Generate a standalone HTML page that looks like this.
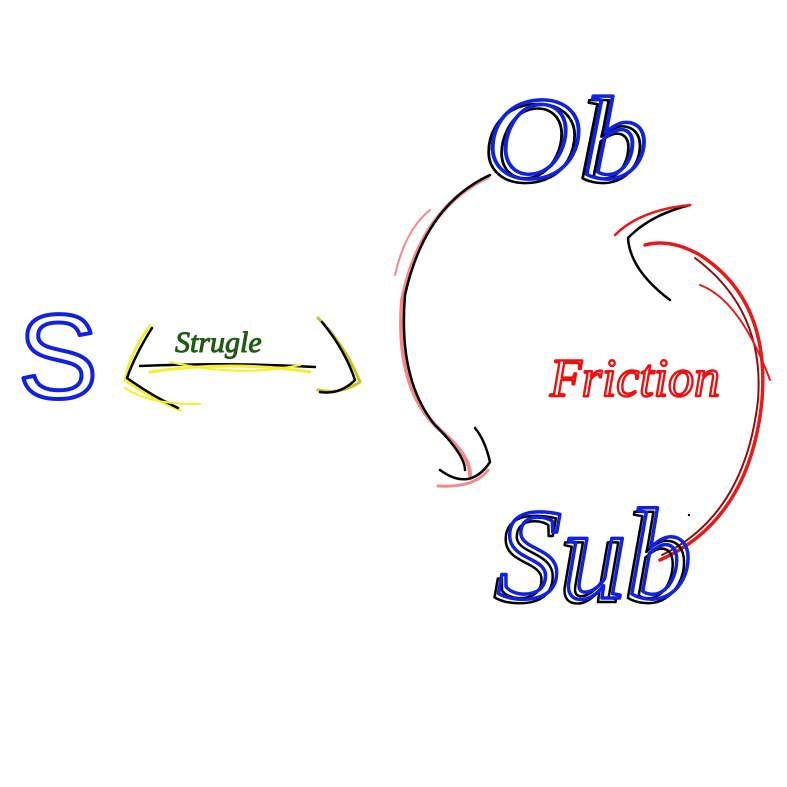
<!DOCTYPE html>
<html><head><meta charset="utf-8"><style>
html,body{margin:0;padding:0;background:#fff;width:787px;height:787px;overflow:hidden}
svg{display:block}
text{font-family:"Liberation Serif","DejaVu Serif",serif;font-style:italic}
</style></head><body>
<svg width="787" height="787" viewBox="0 0 787 787" xmlns="http://www.w3.org/2000/svg">
<g fill="none" stroke-linecap="round" stroke-linejoin="round">
<text x="18" y="398" font-size="120" fill="none" stroke="#1022e0" stroke-width="4" style="font-style:normal;font-family:'Liberation Sans',sans-serif">S</text>
<path d="M150 326 Q130 352 125 380 Q150 398 180 410" stroke="#f5ef30" stroke-width="3"/>
<path d="M152 328 Q135 355 127 378 Q152 396 178 408" stroke="#000" stroke-width="2.5"/>
<path d="M125 388 Q150 405 200 404" stroke="#f5ef30" stroke-width="2"/>
<path d="M140 366 Q230 362 315 367" stroke="#000" stroke-width="2.5"/>
<path d="M150 372 Q230 360 310 372" stroke="#f5ef30" stroke-width="3"/>
<path d="M170 362 Q240 378 300 365" stroke="#f5ef30" stroke-width="2"/>
<path d="M318 318 Q345 345 360 382 Q340 395 318 390" stroke="#c9c21a" stroke-width="3"/>
<path d="M322 322 Q345 350 355 380 Q340 395 320 392" stroke="#000" stroke-width="2.5"/>
<text x="175" y="352" font-size="30" fill="#1e5a10" stroke="#1e5a10" stroke-width="1">Strugle</text>
<text x="482" y="182" font-size="118" textLength="162" lengthAdjust="spacingAndGlyphs" fill="none" stroke="#000" stroke-width="2.5">Ob</text>
<text x="486" y="178" font-size="118" textLength="162" lengthAdjust="spacingAndGlyphs" fill="none" stroke="#1022e0" stroke-width="3.5">Ob</text>
<path d="M488 177 Q420 210 402 300 Q395 390 440 430 Q470 455 470 475" stroke="#f28a8a" stroke-width="4"/>
<path d="M490 175 Q425 205 405 295 Q398 380 435 425 Q465 455 465 470" stroke="#000" stroke-width="2.5"/>
<path d="M440 470 Q470 492 490 462 Q485 440 475 428" stroke="#000" stroke-width="2.5"/>
<path d="M438 486 Q475 488 488 470" stroke="#f28a8a" stroke-width="3"/>
<path d="M395 275 Q405 230 430 210" stroke="#f28a8a" stroke-width="2"/>
<text x="550" y="396" font-size="54" textLength="170" lengthAdjust="spacingAndGlyphs" fill="none" stroke="#ee1010" stroke-width="2.5">Friction</text>
<path d="M660 560 Q750 520 762 400 Q770 300 700 255 Q670 238 645 245" stroke="#e51a1a" stroke-width="3.5"/>
<path d="M662 555 Q745 515 758 400 Q765 310 695 258" stroke="#8a1010" stroke-width="2"/>
<path d="M670 300 Q630 270 628 238 Q650 215 690 205" stroke="#000" stroke-width="2.5"/>
<path d="M615 235 Q640 210 690 205" stroke="#e51a1a" stroke-width="2.5"/>
<path d="M700 285 Q740 300 770 380" stroke="#e51a1a" stroke-width="2"/>
<text x="493" y="602" font-size="130" fill="none" stroke="#000" stroke-width="2.5">Sub</text>
<text x="497" y="598" font-size="130" fill="none" stroke="#1022e0" stroke-width="3.5">Sub</text>
<circle cx="689" cy="515" r="1.2" fill="#000"/>
</g>
</svg>
</body></html>
